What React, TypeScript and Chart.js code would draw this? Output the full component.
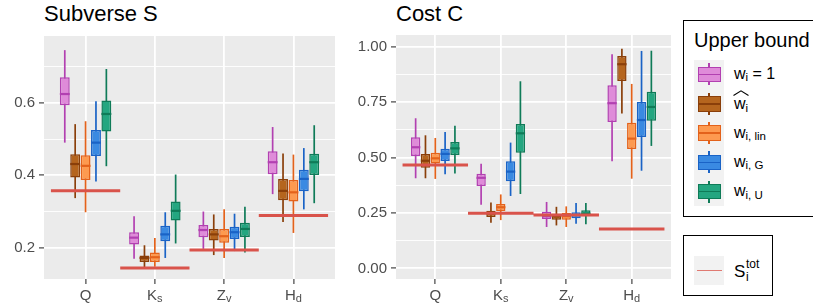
import React, { useEffect, useRef } from 'react';
import { Chart, registerables } from 'chart.js';

Chart.register(...registerables);

const FONT = "'Liberation Sans', Arial, sans-serif";

// ---------- data ----------
const CATEGORIES = ['Q', 'K_s', 'Z_v', 'H_d'];

const SERIES_BASE = ['w', 'w', 'w', 'w', 'w'];
const SERIES_SUB = ['i', 'i', 'i, lin', 'i, G', 'i, U'];
const SERIES_SUFFIX = [' = 1', '', '', '', ''];
const SERIES_HAT = [false, true, false, false, false];

const FILL = ['#df8bd9', '#b5651e', '#fd9a50', '#3a8ae2', '#24a680'];
const EDGE = ['#b240b1', '#8a3f0a', '#e3621b', '#1a63c6', '#0f7b58'];
const TOT_COLOR = '#d9534b';
const TOT_LABEL = 'S_i^tot';

// Subverse S — rows: series, columns: categories
const S_LOW = [
  [0.49, 0.17, 0.197, 0.348],
  [0.337, 0.146, 0.18, 0.271],
  [0.298, 0.148, 0.172, 0.241],
  [0.383, 0.172, 0.191, 0.306],
  [0.425, 0.212, 0.187, 0.323],
];
const S_Q1 = [
  [0.593, 0.209, 0.229, 0.403],
  [0.394, 0.161, 0.22, 0.331],
  [0.387, 0.161, 0.214, 0.328],
  [0.453, 0.218, 0.224, 0.356],
  [0.521, 0.275, 0.23, 0.401],
];
const S_MED = [
  [0.624, 0.228, 0.249, 0.436],
  [0.431, 0.172, 0.237, 0.357],
  [0.426, 0.174, 0.232, 0.353],
  [0.49, 0.237, 0.243, 0.39],
  [0.569, 0.302, 0.252, 0.436],
];
const S_Q3 = [
  [0.67, 0.243, 0.263, 0.466],
  [0.458, 0.179, 0.252, 0.39],
  [0.455, 0.187, 0.252, 0.387],
  [0.525, 0.261, 0.258, 0.415],
  [0.606, 0.328, 0.269, 0.459],
];
const S_HIGH = [
  [0.745, 0.287, 0.3, 0.533],
  [0.541, 0.207, 0.292, 0.46],
  [0.549, 0.227, 0.306, 0.457],
  [0.604, 0.298, 0.294, 0.475],
  [0.693, 0.402, 0.313, 0.538],
];
const S_TOT = [0.357, 0.144, 0.194, 0.289];

// Cost C
const C_LOW = [
  [0.407, 0.287, 0.187, 0.484],
  [0.407, 0.206, 0.194, 0.699],
  [0.404, 0.218, 0.187, 0.405],
  [0.425, 0.327, 0.202, 0.441],
  [0.429, 0.336, 0.199, 0.553],
];
const C_Q1 = [
  [0.507, 0.372, 0.223, 0.661],
  [0.455, 0.232, 0.22, 0.846],
  [0.474, 0.259, 0.22, 0.539],
  [0.485, 0.393, 0.226, 0.593],
  [0.512, 0.522, 0.235, 0.667],
];
const C_MED = [
  [0.547, 0.409, 0.236, 0.746],
  [0.486, 0.248, 0.235, 0.922],
  [0.497, 0.276, 0.236, 0.586],
  [0.517, 0.437, 0.241, 0.67],
  [0.542, 0.61, 0.247, 0.729],
];
const C_Q3 = [
  [0.592, 0.427, 0.256, 0.827],
  [0.517, 0.26, 0.247, 0.959],
  [0.522, 0.291, 0.251, 0.658],
  [0.54, 0.484, 0.254, 0.751],
  [0.571, 0.652, 0.263, 0.798],
];
const C_HIGH = [
  [0.678, 0.473, 0.3, 0.967],
  [0.601, 0.298, 0.278, 0.992],
  [0.589, 0.334, 0.28, 0.833],
  [0.616, 0.568, 0.295, 0.982],
  [0.644, 0.845, 0.295, 0.983],
];
const C_TOT = [0.467, 0.249, 0.241, 0.178];

const S_TICKS = [0.2, 0.3, 0.4, 0.5, 0.6, 0.7];
const S_MAJOR = [0.2, 0.4, 0.6];
const C_TICKS = [0, 0.125, 0.25, 0.375, 0.5, 0.625, 0.75, 0.875, 1.0];
const C_MAJOR = [0, 0.25, 0.5, 0.75, 1.0];

// ---------- plugins ----------
const bgPlugin = {
  id: 'panelBg',
  beforeDraw(chart: any) {
    const { ctx, chartArea: a } = chart;
    ctx.save();
    ctx.fillStyle = '#ebebeb';
    ctx.fillRect(a.left, a.top, a.right - a.left, a.bottom - a.top);
    ctx.restore();
  },
};

const medianPlugin = {
  id: 'medians',
  afterDatasetDraw(chart: any, args: any) {
    const ds = chart.data.datasets[args.index];
    if (!ds.medians) return;
    const ctx = chart.ctx;
    const ys = chart.scales.y;
    ctx.save();
    ctx.strokeStyle = ds.borderColor;
    ctx.lineWidth = 2.2;
    args.meta.data.forEach((bar: any, i: number) => {
      const { x, width } = bar.getProps(['x', 'width'], true);
      const py = ys.getPixelForValue(ds.medians[i]);
      ctx.beginPath();
      ctx.moveTo(x - width / 2, py);
      ctx.lineTo(x + width / 2, py);
      ctx.stroke();
    });
    ctx.restore();
  },
};

const xLabelPlugin = {
  id: 'xLabels',
  afterDraw(chart: any) {
    const ctx = chart.ctx;
    const xs = chart.scales.x;
    const baseY = chart.chartArea.bottom + 21;
    ctx.save();
    ctx.fillStyle = '#4d4d4d';
    ctx.textBaseline = 'alphabetic';
    ctx.textAlign = 'left';
    CATEGORIES.forEach((c, i) => {
      const [main, sub] = c.split('_');
      ctx.font = `15px ${FONT}`;
      const wm = ctx.measureText(main).width;
      ctx.font = `11px ${FONT}`;
      const ws = sub ? ctx.measureText(sub).width : 0;
      const left = xs.getPixelForValue(i + 1) - (wm + ws) / 2;
      ctx.font = `15px ${FONT}`;
      ctx.fillText(main, left, baseY);
      if (sub) {
        ctx.font = `11px ${FONT}`;
        ctx.fillText(sub, left + wm, baseY + 2);
      }
    });
    ctx.restore();
  },
};

// ---------- config ----------
type PanelCfg = {
  low: number[][]; q1: number[][]; med: number[][]; q3: number[][]; high: number[][];
  tot: number[]; yMin: number; yMax: number; ticks: number[]; major: number[];
  digits: number; axisWidth: number; padTop: number; padRight: number;
};

function buildConfig(p: PanelCfg): any {
  const isMajor = (v: number) => p.major.some((m) => Math.abs(m - v) < 1e-9);
  const datasets: any[] = [];
  SERIES_BASE.forEach((_, s) => {
    const name = SERIES_BASE[s] + '_' + SERIES_SUB[s] + SERIES_SUFFIX[s];
    datasets.push({
      type: 'bar',
      label: name + ' whisker',
      stack: 'g' + s,
      order: 3,
      data: CATEGORIES.map((_c, i) => ({ x: i + 1, y: [p.low[s][i], p.high[s][i]] })),
      backgroundColor: EDGE[s],
      borderWidth: 0,
      maxBarThickness: 1.7,
      barPercentage: 0.95,
      categoryPercentage: 0.75,
    });
    datasets.push({
      type: 'bar',
      label: name,
      stack: 'g' + s,
      order: 2,
      data: CATEGORIES.map((_c, i) => ({ x: i + 1, y: [p.q1[s][i], p.q3[s][i]] })),
      medians: p.med[s],
      backgroundColor: FILL[s],
      borderColor: EDGE[s],
      borderWidth: 1.5,
      borderSkipped: false,
      barPercentage: 0.95,
      categoryPercentage: 0.75,
    });
  });
  const totPoints: any[] = [];
  p.tot.forEach((v, i) => {
    totPoints.push({ x: i + 0.5, y: v }, { x: i + 1.5, y: v }, { x: i + 1.5, y: null });
  });
  datasets.push({
    type: 'line',
    label: TOT_LABEL,
    order: 0,
    data: totPoints,
    borderColor: TOT_COLOR,
    borderWidth: 3,
    borderCapStyle: 'butt',
    pointRadius: 0,
    spanGaps: false,
  });

  return {
    type: 'bar',
    data: { datasets },
    plugins: [bgPlugin, medianPlugin, xLabelPlugin],
    options: {
      responsive: false,
      animation: false,
      events: [],
      layout: { padding: { top: p.padTop, right: p.padRight, left: 0, bottom: 0 } },
      plugins: { legend: { display: false }, tooltip: { enabled: false }, title: { display: false } },
      scales: {
        x: {
          type: 'linear',
          min: 0.4,
          max: 4.6,
          offset: false,
          stacked: true,
          afterBuildTicks: (sc: any) => {
            sc.ticks = CATEGORIES.map((_c, i) => ({ value: i + 1 }));
          },
          afterFit: (sc: any) => {
            sc.height = 26;
            sc.paddingLeft = 0;
            sc.paddingRight = 0;
          },
          ticks: { autoSkip: false, maxRotation: 0, callback: () => '', font: { family: FONT, size: 15 } },
          grid: { color: '#ffffff', lineWidth: 1.8, tickColor: '#333333', tickLength: 5, tickWidth: 1.1, offset: false },
          border: { display: false },
        },
        y: {
          type: 'linear',
          min: p.yMin,
          max: p.yMax,
          stacked: false,
          beginAtZero: false,
          afterBuildTicks: (sc: any) => {
            sc.ticks = p.ticks.map((v) => ({ value: v }));
          },
          afterFit: (sc: any) => {
            sc.width = p.axisWidth;
            sc.paddingTop = 0;
            sc.paddingBottom = 0;
          },
          ticks: {
            autoSkip: false,
            padding: 4,
            color: '#4d4d4d',
            font: { family: FONT, size: 15 },
            callback: (v: any) => (isMajor(Number(v)) ? Number(v).toFixed(p.digits) : ''),
          },
          grid: {
            color: '#ffffff',
            lineWidth: (ctx: any) => (ctx.tick && isMajor(ctx.tick.value) ? 1.8 : 0.9),
            tickColor: (ctx: any) => (ctx.tick && isMajor(ctx.tick.value) ? '#333333' : 'rgba(0,0,0,0)'),
            tickLength: 5,
            tickWidth: 1.1,
          },
          border: { display: false },
        },
      },
    },
  };
}

const LEFT_CFG: PanelCfg = {
  low: S_LOW, q1: S_Q1, med: S_MED, q3: S_Q3, high: S_HIGH, tot: S_TOT,
  yMin: 0.114, yMax: 0.784, ticks: S_TICKS, major: S_MAJOR, digits: 1,
  axisWidth: 44, padTop: 36, padRight: 5,
};
const RIGHT_CFG: PanelCfg = {
  low: C_LOW, q1: C_Q1, med: C_MED, q3: C_Q3, high: C_HIGH, tot: C_TOT,
  yMin: -0.048, yMax: 1.054, ticks: C_TICKS, major: C_MAJOR, digits: 2,
  axisWidth: 56, padTop: 35, padRight: 9,
};

function Panel({ cfg, left, width }: { cfg: PanelCfg; left: number; width: number }) {
  const ref = useRef<HTMLCanvasElement>(null);
  useEffect(() => {
    const chart = new Chart(ref.current as HTMLCanvasElement, buildConfig(cfg));
    return () => chart.destroy();
  }, []);
  return (
    <canvas
      ref={ref}
      width={width}
      height={305}
      style={{ position: 'absolute', left, top: 0, width, height: 305 }}
    />
  );
}

// ---------- legend ----------
const ASC = 0.8465;
function textTop(baseline: number, size: number) {
  return baseline - ASC * size;
}

function SeriesLabel({ s, baseline }: { s: number; baseline: number }) {
  const size = 16;
  const body = (
    <span style={{ position: 'relative', display: 'inline-block' }}>
      {SERIES_BASE[s]}
      <span style={{ fontSize: 11.5, position: 'relative', top: 2.5 }}>{SERIES_SUB[s]}</span>
      {SERIES_HAT[s] ? (
        <svg
          width={16}
          height={6}
          style={{ position: 'absolute', left: -1, top: -6 }}
        >
          <polyline points="0.5,5.5 8,0.8 15.5,5.5" fill="none" stroke="#000" strokeWidth={1.1} />
        </svg>
      ) : null}
    </span>
  );
  return (
    <div
      style={{
        position: 'absolute',
        left: 734,
        top: textTop(baseline, size),
        fontSize: size,
        lineHeight: 1,
        whiteSpace: 'pre',
        color: '#000',
      }}
    >
      {body}
      {SERIES_SUFFIX[s]}
    </div>
  );
}

const KEY_TOP = 59.8;
const KEY_H = 29.3;

function Legend() {
  return (
    <>
      <div
        style={{
          position: 'absolute', left: 683, top: 20, width: 150, height: 197,
          border: '1px solid #000', boxSizing: 'border-box',
        }}
      />
      <div style={{ position: 'absolute', left: 694, top: textTop(46.7, 20), fontSize: 20, lineHeight: 1, whiteSpace: 'pre' }}>
        Upper bound
      </div>
      <div style={{ position: 'absolute', left: 694, top: KEY_TOP, width: 30, height: KEY_H * 5, background: '#f2f2f2' }} />
      {SERIES_BASE.map((_, s) => {
        const cy = KEY_TOP + KEY_H * (s + 0.5);
        return (
          <React.Fragment key={s}>
            <div style={{ position: 'absolute', left: 708.2, top: cy - 11, width: 1.6, height: 22, background: EDGE[s] }} />
            <div
              style={{
                position: 'absolute', left: 697.5, top: cy - 7.8, width: 23, height: 15.6,
                boxSizing: 'border-box', background: FILL[s], border: `1.5px solid ${EDGE[s]}`,
              }}
            />
            <div style={{ position: 'absolute', left: 697.5, top: cy - 0.8, width: 23, height: 1.6, background: EDGE[s] }} />
            <SeriesLabel s={s} baseline={cy + (SERIES_HAT[s] ? 6 : 5)} />
          </React.Fragment>
        );
      })}

      <div
        style={{
          position: 'absolute', left: 683, top: 235, width: 89.5, height: 60.5,
          border: '1px solid #000', boxSizing: 'border-box',
        }}
      />
      <div style={{ position: 'absolute', left: 694, top: 255.5, width: 30, height: 29.3, background: '#f2f2f2' }} />
      <div style={{ position: 'absolute', left: 696.5, top: 269.6, width: 25, height: 1.8, background: '#e07a72' }} />
      <div style={{ position: 'absolute', left: 734, top: textTop(277, 17), fontSize: 17, lineHeight: 1, whiteSpace: 'pre' }}>
        <span style={{ position: 'relative', display: 'inline-block' }}>
          S
          <span style={{ position: 'absolute', left: 12, top: -5, fontSize: 12 }}>tot</span>
          <span style={{ position: 'absolute', left: 12, top: 8, fontSize: 12 }}>i</span>
        </span>
      </div>
    </>
  );
}

export default function App() {
  return (
    <div
      style={{
        position: 'absolute', left: 0, top: 0, width: 813, height: 305, overflow: 'hidden',
        background: '#ffffff', fontFamily: FONT, color: '#000',
      }}
    >
      <div style={{ position: 'absolute', left: 44, top: textTop(21.5, 22), fontSize: 22, lineHeight: 1, whiteSpace: 'pre' }}>
        Subverse S
      </div>
      <div style={{ position: 'absolute', left: 396, top: textTop(21.5, 22), fontSize: 22, lineHeight: 1, whiteSpace: 'pre' }}>
        Cost C
      </div>
      <Panel cfg={LEFT_CFG} left={0} width={340} />
      <Panel cfg={RIGHT_CFG} left={340} width={340} />
      <Legend />
    </div>
  );
}
